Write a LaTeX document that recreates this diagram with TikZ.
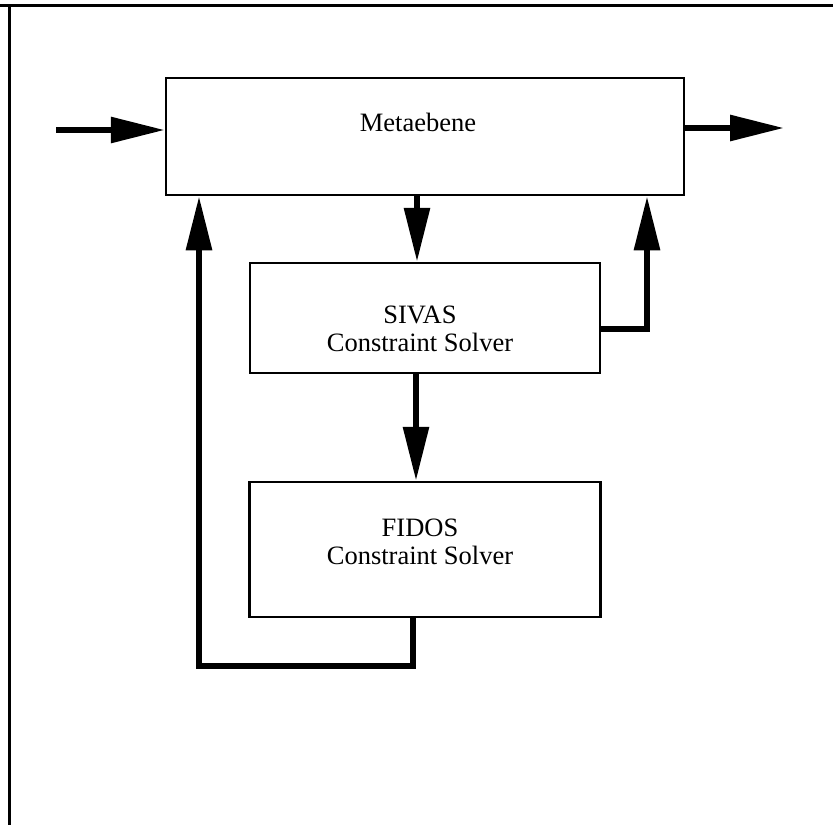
\documentclass[tikz,border=0pt]{standalone}
\usepackage{fontspec}
\setmainfont{Liberation Serif}
\usetikzlibrary{arrows.meta}
\begin{document}
\begin{tikzpicture}[x=1pt,y=-1pt,
  box/.style={draw,line width=2.5pt,rectangle,inner sep=0pt},
  lbl/.style={font=\fontsize{26.5}{27.5}\selectfont,inner sep=0pt,align=center},
  flow/.style={line width=6pt,-{Triangle[length=54pt,width=25pt]}},
  frame/.style={line width=3pt}]
\useasboundingbox (0,0) rectangle (833,825);
% frame (top and left only)
\draw[frame] (0,5) -- (833,5);
\draw[frame] (9,5) -- (9,825);
% boxes
\node[box,minimum width=518pt,minimum height=117pt] (meta) at (425,136.5) {};
\node[box,minimum width=350pt,minimum height=110pt] (sivas) at (425,318) {};
\node[box,minimum width=351pt,minimum height=135pt] (fidos) at (425,549.5) {};
% labels
\node[lbl] (metaT) at (418,122) {Metaebene};
\node[lbl] (sivasT) at (420,329) {SIVAS\\Constraint Solver};
\node[lbl] (fidosT) at (420,542) {FIDOS\\Constraint Solver};
% coordinates
\coordinate (inp) at (56,130);
\coordinate (outp) at (784,128);
\coordinate (fb1) at (413,666);
\coordinate (fb2) at (199,666);
\coordinate (rt1) at (647,329);
% connectors
\draw[flow] (inp) -- (inp -| meta.west);
\draw[flow] (outp -| meta.east) -- (outp);
\draw[flow] ([xshift=-8pt]meta.south) -- ([xshift=-8pt]sivas.north);
\draw[flow] ([xshift=-9pt]sivas.south) -- ([xshift=-9pt]fidos.north);
\draw[flow] (fb1 |- fidos.south) -- (fb1) -- (fb2) -- (fb2 |- meta.south);
\draw[flow] (rt1 -| sivas.east) -- (rt1) -- (rt1 |- meta.south);
\end{tikzpicture}
\end{document}
